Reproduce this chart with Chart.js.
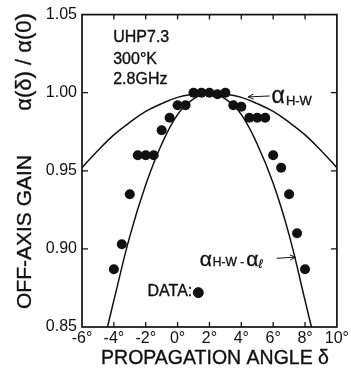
<!DOCTYPE html>
<html>
<head>
<meta charset="utf-8">
<script src="https://cdn.jsdelivr.net/npm/chart.js@4.4.1/dist/chart.umd.min.js"></script>
<style>
html,body{margin:0;padding:0;background:#fff;}
canvas{display:block;}
</style>
</head>
<body>
<canvas id="c" width="351" height="373"></canvas>
<script>
// ---- data ----
const dataAngles = [-4,-3.5,-3,-2.5,-2,-1.5,-1,-0.5,0,0.5,1,1.5,2,2.5,3,3.5,4,4.5,5,5.5,6,6.5,7,7.5,8];
const dataGain   = [0.887,0.903,0.935,0.960,0.960,0.960,0.976,0.984,0.992,0.992,1.000,1.000,1.000,0.999,1.000,0.992,0.991,0.984,0.984,0.984,0.960,0.952,0.935,0.910,0.887];

const hwAngles = [-6,-5,-4,-3,-2,-1,0,1,2,3,4,5,6,7,8,9,10];
const hwGain   = [0.952,0.963,0.973,0.981,0.988,0.993,0.997,0.999,1.000,0.999,0.997,0.993,0.988,0.981,0.973,0.963,0.952];

const hwlAngles = [-4.4,-4,-3,-2,-1,0,1,2,3,4,5,6,7,8,8.4];
const hwlGain   = [0.850,0.867,0.908,0.941,0.967,0.986,0.996,1.000,0.996,0.986,0.967,0.942,0.909,0.867,0.850];

const keyAngle = [1.3];
const keyGain  = [0.872];

const xTicks = [-6,-4,-2,0,2,4,6,8,10];
const yTicks = [0.85,0.90,0.95,1.00,1.05];

const infoLines = ['UHP7.3','300°K','2.8GHz'];
const xTitle = 'PROPAGATION ANGLE δ';
const yTitleA = 'OFF-AXIS GAIN';
const yTitleB = 'α(δ) / α(0)';

const INK = '#111';
const FONT = "'Liberation Sans', Arial, sans-serif";

const pts = (xs, ys) => xs.map((v,i)=>({x:v, y:ys[i]}));

function arrow(ctx, x0, y0, x1, y1){
  ctx.beginPath(); ctx.moveTo(x0,y0); ctx.lineTo(x1,y1); ctx.stroke();
  const ang = Math.atan2(y1-y0, x1-x0), L = 6, w = 0.45;
  ctx.beginPath();
  ctx.moveTo(x1 - L*Math.cos(ang-w), y1 - L*Math.sin(ang-w));
  ctx.lineTo(x1,y1);
  ctx.lineTo(x1 - L*Math.cos(ang+w), y1 - L*Math.sin(ang+w));
  ctx.stroke();
}

function txt(ctx, t, x, y){
  ctx.fillText(t, x, y);
  ctx.lineWidth = 0.35;
  ctx.strokeText(t, x, y);
}

const deco = {
  id:'deco',
  afterDraw(chart){
    const {ctx, chartArea:a, scales:{x,y}} = chart;
    const X = v=>x.getPixelForValue(v), Y = v=>y.getPixelForValue(v);
    ctx.save();
    ctx.strokeStyle = INK; ctx.fillStyle = INK;
    // frame
    ctx.lineWidth = 1.7;
    ctx.strokeRect(a.left, a.top, a.right-a.left, a.bottom-a.top);
    // inward ticks
    ctx.lineWidth = 1.3;
    ctx.beginPath();
    xTicks.slice(1,-1).forEach(v=>{
      const p = X(v);
      ctx.moveTo(p,a.bottom); ctx.lineTo(p,a.bottom-5);
      ctx.moveTo(p,a.top); ctx.lineTo(p,a.top+5);
    });
    yTicks.slice(1,-1).forEach(v=>{
      const p = Y(v);
      ctx.moveTo(a.left,p); ctx.lineTo(a.left+6,p);
      ctx.moveTo(a.right,p); ctx.lineTo(a.right-6,p);
    });
    ctx.stroke();

    // info text
    ctx.textBaseline = 'middle'; ctx.textAlign = 'left';
    ctx.font = '16px ' + FONT;
    const infoY = [1.0352, 1.0214, 1.0083];
    infoLines.forEach((t,i)=>txt(ctx, t, X(-4.04), Y(infoY[i])));

    // DATA key
    ctx.font = '16px ' + FONT;
    ctx.textAlign = 'right';
    txt(ctx, 'DATA:', X(0.92), Y(0.8727));

    // alpha H-W label
    ctx.textAlign = 'left';
    let px = X(5.9), py = Y(0.9977);
    ctx.font = '23px ' + FONT;
    txt(ctx, 'α', px, py);
    px += ctx.measureText('α').width + 1;
    ctx.font = '13px ' + FONT;
    txt(ctx, 'H-W', px, py + 5);
    ctx.lineWidth = 1;
    arrow(ctx, X(5.78), Y(0.9979), X(4.43), Y(0.9973));

    // alpha H-W - alpha l label
    px = X(1.39); py = Y(0.8927);
    ctx.font = '21px ' + FONT;
    txt(ctx, 'α', px, py);
    px += ctx.measureText('α').width + 1;
    ctx.font = '12px ' + FONT;
    txt(ctx, 'H-W -', px, py + 2);
    px += ctx.measureText('H-W -').width + 2;
    ctx.font = '21px ' + FONT;
    txt(ctx, 'α', px, py);
    px += ctx.measureText('α').width;
    ctx.font = 'italic 12px ' + FONT;
    txt(ctx, 'ℓ', px, py + 4);
    ctx.lineWidth = 1;
    arrow(ctx, X(6.21), Y(0.8940), X(7.39), Y(0.8947));

    // titles
    ctx.font = '19.5px ' + FONT;
    ctx.textAlign = 'center';
    txt(ctx, xTitle, 215, 358.5);
    ctx.save();
    ctx.translate(25, 0);
    ctx.rotate(-Math.PI/2);
    ctx.font = '21px ' + FONT;
    txt(ctx, yTitleA, -232, 0);
    ctx.font = '22px ' + FONT;
    txt(ctx, yTitleB, -62, 0);
    ctx.restore();
    ctx.restore();
  }
};

new Chart(document.getElementById('c'), {
  type:'scatter',
  data:{
    datasets:[
      {data:pts(dataAngles,dataGain), pointRadius:5, pointBackgroundColor:INK, pointBorderColor:INK, borderWidth:0, showLine:false, order:0},
      {data:pts(keyAngle,keyGain), pointRadius:5, pointBackgroundColor:INK, pointBorderColor:INK, showLine:false, order:0},
      {data:pts(hwAngles,hwGain), showLine:true, pointRadius:0, borderColor:INK, borderWidth:1.5, tension:0.4, order:1},
      {data:pts(hwlAngles,hwlGain), showLine:true, pointRadius:0, borderColor:INK, borderWidth:1.5, tension:0.4, order:1}
    ]
  },
  options:{
    responsive:false, animation:false, devicePixelRatio:1,
    layout:{padding:{top:7, right:13, left:0, bottom:0}},
    plugins:{legend:{display:false}, tooltip:{enabled:false}},
    scales:{
      x:{type:'linear', min:-6, max:10,
         afterBuildTicks:s=>{s.ticks = xTicks.map(v=>({value:v}));},
         afterFit:s=>{s.height = 46;},
         grid:{display:false, drawTicks:false}, border:{display:false},
         ticks:{color:INK, padding:2, font:{family:FONT, size:16}, maxRotation:0, autoSkip:false,
                callback:v=>v+'°'}},
      y:{type:'linear', min:0.85, max:1.05,
         afterBuildTicks:s=>{s.ticks = yTicks.map(v=>({value:v}));},
         afterFit:s=>{s.width = 82;},
         grid:{display:false, drawTicks:false}, border:{display:false},
         ticks:{color:INK, padding:5, font:{family:FONT, size:16}, autoSkip:false,
                callback:v=>v.toFixed(2)}}
    }
  },
  plugins:[deco]
});
</script>
</body>
</html>
